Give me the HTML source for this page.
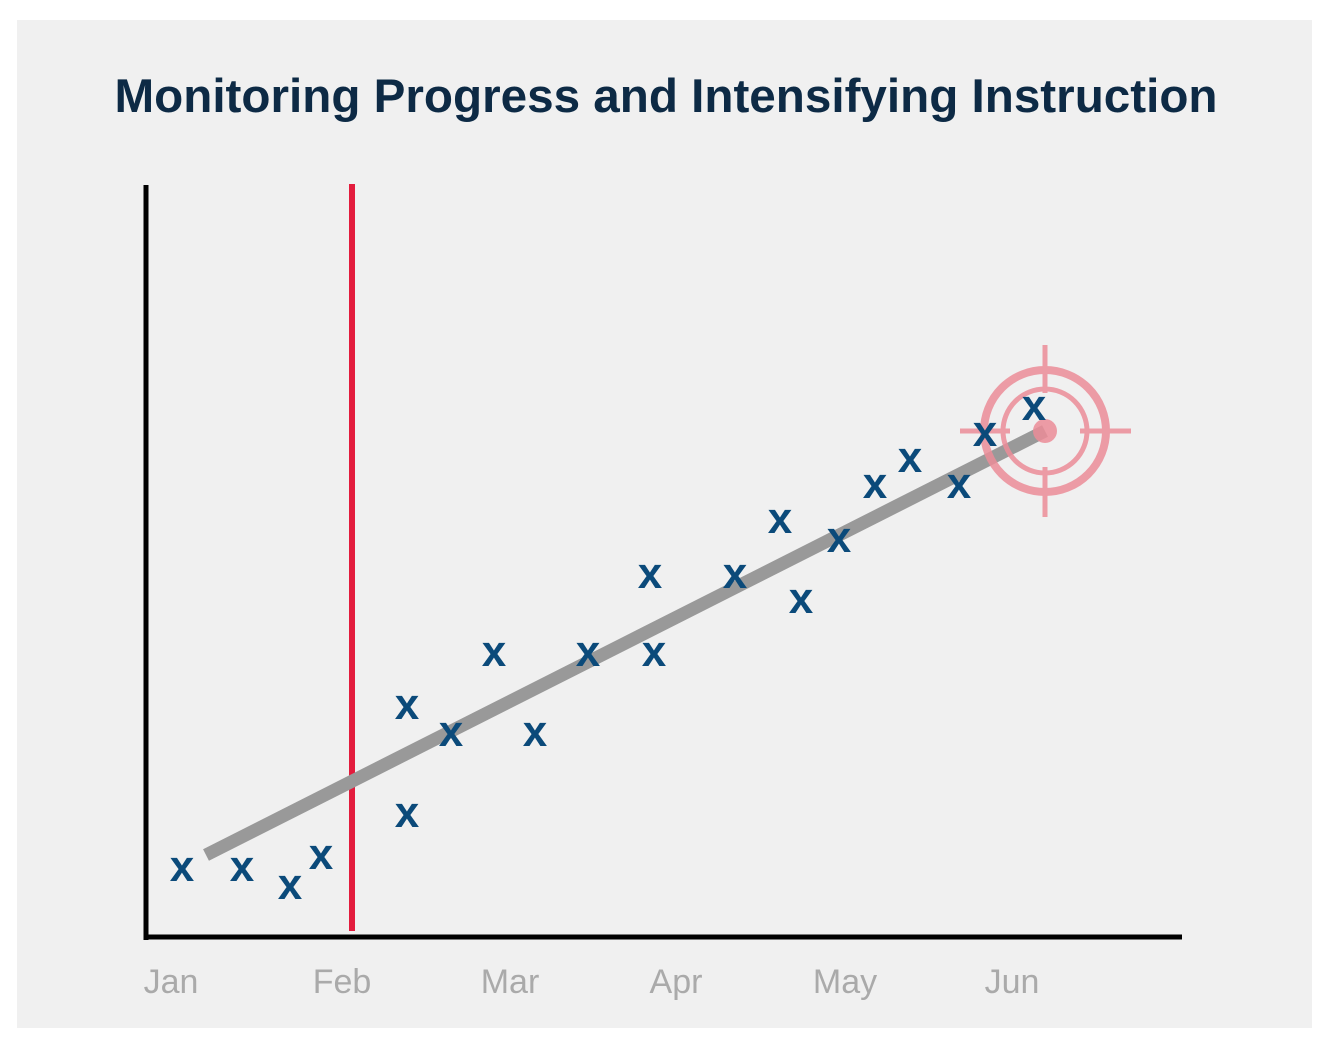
<!DOCTYPE html>
<html><head><style>body{margin:0;background:#fff}</style></head><body>
<svg width="1330" height="1046" xmlns="http://www.w3.org/2000/svg">
<rect x="17" y="20" width="1295" height="1008" fill="#f0f0f0"/>
<text x="666" y="112" text-anchor="middle" font-family="Liberation Sans, sans-serif" font-weight="bold" font-size="47" fill="#0d2a45" textLength="1103" lengthAdjust="spacingAndGlyphs">Monitoring Progress and Intensifying Instruction</text>
<line x1="146" y1="185" x2="146" y2="940" stroke="#000" stroke-width="5"/>
<line x1="144" y1="937" x2="1182" y2="937" stroke="#000" stroke-width="5"/>
<line x1="352" y1="184" x2="352" y2="931" stroke="#e31c3d" stroke-width="6"/>
<line x1="206" y1="855" x2="1045" y2="431" stroke="#999" stroke-width="13"/>
<g font-family="Liberation Sans, sans-serif" font-size="34" fill="#aaa" text-anchor="middle">
<text x="171" y="993">Jan</text><text x="342" y="993">Feb</text><text x="510" y="993">Mar</text><text x="676" y="993">Apr</text><text x="845" y="993">May</text><text x="1012" y="993">Jun</text>
</g>
<g opacity="0.85" stroke="#ec8d98" fill="none">
<circle cx="1045" cy="431" r="61" stroke-width="8"/>
<circle cx="1045" cy="431" r="42" stroke-width="5"/>
<line x1="960" y1="431" x2="1010" y2="431" stroke-width="5"/>
<line x1="1080" y1="431" x2="1131" y2="431" stroke-width="5"/>
<line x1="1045" y1="345" x2="1045" y2="393" stroke-width="5"/>
<line x1="1045" y1="467" x2="1045" y2="517" stroke-width="5"/>
<circle cx="1045" cy="431" r="12" fill="#ec8d98" stroke="none"/>
</g>
<g font-family="Liberation Sans, sans-serif" font-weight="bold" font-size="44" fill="#0b4a7a" text-anchor="middle">
<text x="182" y="881">x</text><text x="242" y="881">x</text><text x="290" y="899">x</text><text x="321" y="869">x</text>
<text x="407" y="719">x</text><text x="407" y="827">x</text><text x="451" y="746">x</text><text x="494" y="666">x</text>
<text x="535" y="746">x</text><text x="588" y="666">x</text><text x="650" y="588">x</text><text x="654" y="666">x</text>
<text x="735" y="588">x</text><text x="780" y="533">x</text><text x="801" y="613">x</text><text x="839" y="552">x</text>
<text x="875" y="498">x</text><text x="910" y="472">x</text><text x="959" y="498">x</text><text x="985" y="446">x</text>
<text x="1034" y="420">x</text>
</g>
</svg>
</body></html>
